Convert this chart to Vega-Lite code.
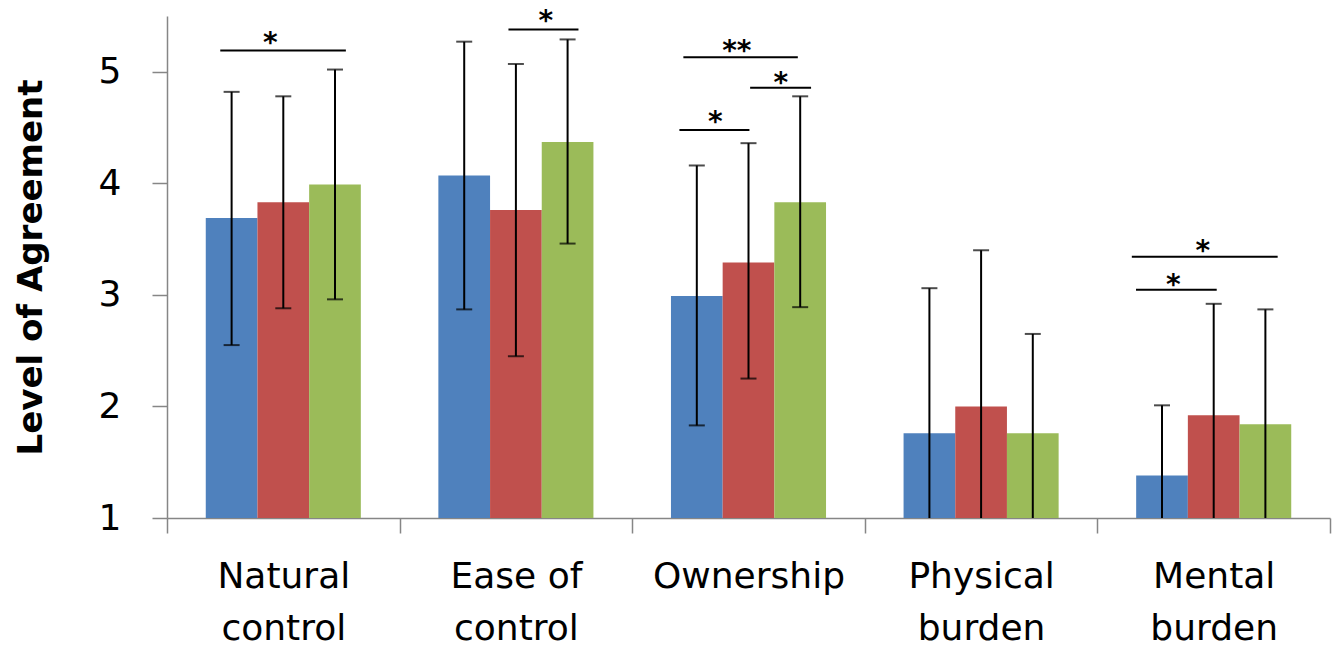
{
  "$schema": "https://vega.github.io/schema/vega-lite/v6.json",
  "width": 1163,
  "height": 502,
  "autosize": {"type": "none"},
  "padding": {"left": 167, "top": 16, "right": 2, "bottom": 133},
  "background": "white",
  "config": {"view": {"stroke": null}, "font": "DejaVu Sans"},
  "datasets": {
    "bars": [
      {"category": "Natural control", "group": "A", "mean": 3.69, "lo": 2.55, "hi": 4.82},
      {"category": "Natural control", "group": "B", "mean": 3.83, "lo": 2.88, "hi": 4.78},
      {"category": "Natural control", "group": "C", "mean": 3.99, "lo": 2.96, "hi": 5.02},
      {"category": "Ease of control", "group": "A", "mean": 4.07, "lo": 2.87, "hi": 5.27},
      {"category": "Ease of control", "group": "B", "mean": 3.76, "lo": 2.45, "hi": 5.07},
      {"category": "Ease of control", "group": "C", "mean": 4.37, "lo": 3.46, "hi": 5.29},
      {"category": "Ownership", "group": "A", "mean": 2.99, "lo": 1.83, "hi": 4.16},
      {"category": "Ownership", "group": "B", "mean": 3.29, "lo": 2.25, "hi": 4.36},
      {"category": "Ownership", "group": "C", "mean": 3.83, "lo": 2.89, "hi": 4.78},
      {"category": "Physical burden", "group": "A", "mean": 1.76, "lo": 0.46, "hi": 3.06},
      {"category": "Physical burden", "group": "B", "mean": 2.0, "lo": 0.6, "hi": 3.4},
      {"category": "Physical burden", "group": "C", "mean": 1.76, "lo": 0.87, "hi": 2.65},
      {"category": "Mental burden", "group": "A", "mean": 1.38, "lo": 0.75, "hi": 2.01},
      {"category": "Mental burden", "group": "B", "mean": 1.92, "lo": 0.92, "hi": 2.92},
      {"category": "Mental burden", "group": "C", "mean": 1.84, "lo": 0.81, "hi": 2.87}
    ],
    "sig": [
      {"x1": 0.229, "x2": 0.769, "y": 5.19, "star": "*", "sx": 0.444, "sy": 5.32},
      {"x1": 1.468, "x2": 1.769, "y": 5.38, "star": "*", "sx": 1.629, "sy": 5.52},
      {"x1": 2.22, "x2": 2.712, "y": 5.13, "star": "**", "sx": 2.45, "sy": 5.245},
      {"x1": 2.507, "x2": 2.769, "y": 4.857, "star": "*", "sx": 2.639, "sy": 4.96},
      {"x1": 2.203, "x2": 2.504, "y": 4.478, "star": "*", "sx": 2.357, "sy": 4.61},
      {"x1": 4.148, "x2": 4.775, "y": 3.343, "star": "*", "sx": 4.453, "sy": 3.454},
      {"x1": 4.166, "x2": 4.513, "y": 3.045, "star": "*", "sx": 4.326, "sy": 3.155}
    ]
  },
  "layer": [
    {
      "data": {"name": "bars"},
      "encoding": {
        "x": {
          "field": "category",
          "type": "nominal",
          "sort": ["Natural control", "Ease of control", "Ownership", "Physical burden", "Mental burden"],
          "scale": {"paddingInner": 0, "paddingOuter": 0},
          "axis": {
            "title": null,
            "tickBand": "extent",
            "tickSize": 15,
            "tickWidth": 1.5,
            "tickColor": "#868686",
            "domainColor": "#868686",
            "domainWidth": 1.5,
            "labelFont": "DejaVu Sans",
            "labelFontSize": 36,
            "labelColor": "black",
            "labelAngle": 0,
            "labelPadding": 26,
            "labelLineHeight": 52,
            "labelLimit": 0,
            "labelExpr": "!isValid(datum.value) ? '' : (datum.value == 'Ease of control' ? ['Ease of', 'control'] : split(datum.value, ' '))"
          }
        },
        "xOffset": {
          "field": "group",
          "type": "nominal",
          "scale": {"paddingInner": 0, "paddingOuter": 0.75}
        }
      },
      "layer": [
        {
          "mark": {"type": "bar"},
          "encoding": {
            "y": {
              "field": "mean",
              "type": "quantitative",
              "scale": {"domain": [1, 5.5], "nice": false, "zero": false},
              "axis": {
                "title": "Level of Agreement",
                "titleFont": "DejaVu Sans",
                "titleFontSize": 34,
                "titleFontWeight": "bold",
                "titleColor": "black",
                "titlePadding": 50,
                "values": [1, 2, 3, 4, 5],
                "format": "d",
                "grid": false,
                "tickSize": 15,
                "tickWidth": 1.5,
                "tickColor": "#868686",
                "domainColor": "#868686",
                "domainWidth": 1.5,
                "labelFont": "DejaVu Sans",
                "labelFontSize": 36,
                "labelColor": "black",
                "labelPadding": 31
              }
            },
            "y2": {"datum": 1},
            "color": {
              "field": "group",
              "type": "nominal",
              "scale": {"domain": ["A", "B", "C"], "range": ["#4F81BD", "#C0504D", "#9BBB59"]},
              "legend": null
            }
          }
        },
        {
          "mark": {"type": "rule", "color": "black", "strokeWidth": 2, "clip": true},
          "encoding": {
            "y": {"field": "lo", "type": "quantitative"},
            "y2": {"field": "hi"}
          }
        },
        {
          "mark": {"type": "tick", "color": "black", "size": 16, "thickness": 2, "orient": "horizontal"},
          "encoding": {"y": {"field": "hi", "type": "quantitative"}}
        },
        {
          "mark": {"type": "tick", "color": "black", "size": 16, "thickness": 2, "orient": "horizontal", "clip": true},
          "encoding": {"y": {"field": "lo", "type": "quantitative"}}
        }
      ]
    },
    {
      "data": {"name": "sig"},
      "layer": [
        {
          "mark": {"type": "rule", "color": "black", "strokeWidth": 2},
          "encoding": {
            "x": {"field": "x1", "type": "quantitative", "scale": {"domain": [0, 5], "nice": false, "zero": false}, "axis": null},
            "x2": {"field": "x2"},
            "y": {"field": "y", "type": "quantitative"}
          }
        },
        {
          "mark": {"type": "text", "color": "black", "fontSize": 28, "fontWeight": "bold", "baseline": "middle", "align": "center", "dy": 8},
          "encoding": {
            "x": {"field": "sx", "type": "quantitative", "scale": {"domain": [0, 5], "nice": false, "zero": false}, "axis": null},
            "y": {"field": "sy", "type": "quantitative"},
            "text": {"field": "star"}
          }
        }
      ]
    }
  ],
  "resolve": {"scale": {"x": "independent"}}
}
